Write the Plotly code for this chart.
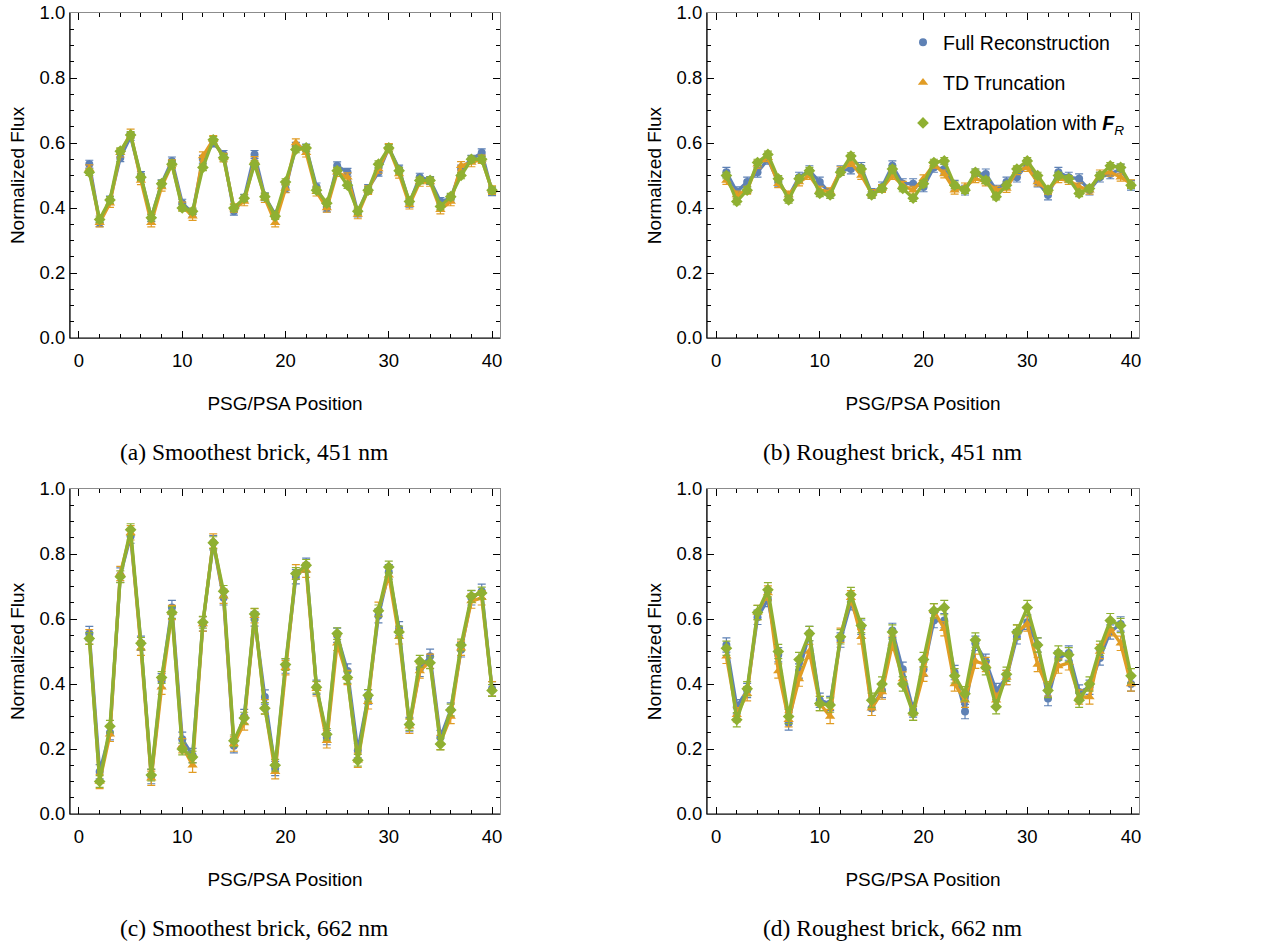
import plotly.graph_objects as go

positions = list(range(1, 41))

# Panel (a): Smoothest brick, 451 nm
a_full = [0.535, 0.355, 0.425, 0.555, 0.620, 0.500, 0.370, 0.475, 0.545, 0.415,
          0.385, 0.550, 0.600, 0.565, 0.390, 0.430, 0.565, 0.435, 0.380, 0.460,
          0.590, 0.585, 0.465, 0.400, 0.530, 0.510, 0.385, 0.460, 0.510, 0.585,
          0.520, 0.415, 0.495, 0.485, 0.420, 0.430, 0.520, 0.550, 0.570, 0.450]
a_td = [0.520, 0.355, 0.415, 0.570, 0.630, 0.485, 0.355, 0.465, 0.535, 0.405,
        0.375, 0.560, 0.610, 0.555, 0.400, 0.420, 0.545, 0.430, 0.355, 0.460,
        0.600, 0.570, 0.450, 0.400, 0.510, 0.495, 0.380, 0.455, 0.520, 0.585,
        0.505, 0.410, 0.480, 0.480, 0.395, 0.420, 0.530, 0.540, 0.550, 0.455]
a_ext = [0.510, 0.365, 0.425, 0.575, 0.625, 0.495, 0.370, 0.475, 0.535, 0.400,
         0.390, 0.525, 0.610, 0.555, 0.400, 0.430, 0.535, 0.435, 0.375, 0.480,
         0.580, 0.585, 0.455, 0.415, 0.515, 0.470, 0.390, 0.455, 0.535, 0.585,
         0.515, 0.420, 0.485, 0.485, 0.405, 0.435, 0.500, 0.550, 0.550, 0.455]

# Panel (b): Roughest brick, 451 nm
b_full = [0.510, 0.450, 0.480, 0.510, 0.550, 0.480, 0.435, 0.495, 0.515, 0.480,
          0.445, 0.515, 0.520, 0.525, 0.445, 0.465, 0.530, 0.475, 0.475, 0.465,
          0.525, 0.520, 0.470, 0.455, 0.505, 0.505, 0.455, 0.480, 0.495, 0.535,
          0.480, 0.440, 0.510, 0.495, 0.490, 0.455, 0.495, 0.505, 0.520, 0.470]
b_td = [0.485, 0.440, 0.455, 0.535, 0.555, 0.475, 0.440, 0.480, 0.500, 0.455,
        0.450, 0.515, 0.540, 0.500, 0.445, 0.460, 0.500, 0.470, 0.455, 0.490,
        0.535, 0.505, 0.455, 0.465, 0.490, 0.480, 0.455, 0.460, 0.515, 0.525,
        0.480, 0.455, 0.490, 0.485, 0.465, 0.455, 0.505, 0.510, 0.495, 0.475]
b_ext = [0.500, 0.420, 0.455, 0.540, 0.565, 0.490, 0.425, 0.490, 0.515, 0.445,
         0.440, 0.510, 0.560, 0.520, 0.440, 0.460, 0.520, 0.460, 0.430, 0.475,
         0.540, 0.545, 0.470, 0.455, 0.510, 0.485, 0.435, 0.470, 0.520, 0.545,
         0.500, 0.455, 0.500, 0.490, 0.445, 0.460, 0.500, 0.530, 0.525, 0.470]

# Panel (c): Smoothest brick, 662 nm
c_full = [0.555, 0.130, 0.250, 0.735, 0.855, 0.525, 0.115, 0.410, 0.635, 0.230,
          0.180, 0.585, 0.835, 0.665, 0.210, 0.300, 0.600, 0.360, 0.140, 0.455,
          0.730, 0.765, 0.390, 0.235, 0.550, 0.440, 0.195, 0.360, 0.610, 0.745,
          0.570, 0.275, 0.445, 0.485, 0.235, 0.320, 0.505, 0.665, 0.685, 0.385]
c_td = [0.545, 0.100, 0.245, 0.740, 0.865, 0.510, 0.110, 0.390, 0.620, 0.210,
        0.150, 0.585, 0.840, 0.670, 0.215, 0.280, 0.610, 0.330, 0.130, 0.450,
        0.745, 0.750, 0.385, 0.225, 0.525, 0.420, 0.165, 0.345, 0.630, 0.735,
        0.545, 0.270, 0.440, 0.470, 0.220, 0.300, 0.510, 0.655, 0.665, 0.385]
c_ext = [0.540, 0.100, 0.270, 0.730, 0.875, 0.525, 0.120, 0.420, 0.620, 0.200,
         0.175, 0.590, 0.835, 0.685, 0.225, 0.295, 0.615, 0.325, 0.150, 0.460,
         0.740, 0.765, 0.390, 0.245, 0.555, 0.420, 0.165, 0.365, 0.625, 0.760,
         0.560, 0.275, 0.470, 0.465, 0.215, 0.320, 0.520, 0.670, 0.680, 0.380]

# Panel (d): Roughest brick, 662 nm
d_full = [0.520, 0.330, 0.380, 0.605, 0.660, 0.490, 0.280, 0.440, 0.555, 0.350,
          0.340, 0.535, 0.650, 0.575, 0.325, 0.380, 0.565, 0.445, 0.320, 0.445,
          0.595, 0.595, 0.435, 0.315, 0.525, 0.470, 0.380, 0.420, 0.545, 0.590,
          0.520, 0.355, 0.480, 0.495, 0.375, 0.390, 0.480, 0.560, 0.585, 0.400]
d_td = [0.485, 0.305, 0.370, 0.620, 0.680, 0.440, 0.290, 0.415, 0.500, 0.340,
        0.300, 0.550, 0.665, 0.545, 0.325, 0.375, 0.525, 0.415, 0.310, 0.430,
        0.625, 0.570, 0.400, 0.350, 0.470, 0.460, 0.350, 0.420, 0.560, 0.585,
        0.460, 0.385, 0.455, 0.465, 0.360, 0.360, 0.500, 0.570, 0.525, 0.400]
d_ext = [0.510, 0.290, 0.385, 0.620, 0.690, 0.500, 0.300, 0.475, 0.555, 0.340,
         0.335, 0.545, 0.675, 0.580, 0.350, 0.400, 0.560, 0.400, 0.310, 0.475,
         0.625, 0.635, 0.425, 0.370, 0.535, 0.450, 0.330, 0.430, 0.560, 0.635,
         0.520, 0.380, 0.495, 0.490, 0.350, 0.400, 0.510, 0.595, 0.580, 0.425]

# Error bar half-widths (full, TD, extrapolation) per panel
a_err = [0.012, 0.013, 0.010]
b_err = [0.015, 0.012, 0.010]
c_err = [0.022, 0.022, 0.018]
d_err = [0.022, 0.022, 0.022]

series_names = ["Full Reconstruction", "TD Truncation",
                "Extrapolation with <b><i>F</i></b><sub><i>R</i></sub>"]
captions = ["(a) Smoothest brick, 451 nm", "(b) Roughest brick, 451 nm",
            "(c) Smoothest brick, 662 nm", "(d) Roughest brick, 662 nm"]

colors = ["#5E81B5", "#E19C24", "#8FB032"]
symbols = ["circle", "triangle-up", "diamond"]
msizes = [8, 9, 9]

panels = [
    (a_full, a_td, a_ext, a_err),
    (b_full, b_td, b_ext, b_err),
    (c_full, c_td, c_ext, c_err),
    (d_full, d_td, d_ext, d_err),
]

W, H = 1265, 945


def px(v):
    return v / W


def py(v):
    return 1 - v / H


# panel frames in window pixels: (left, right, top, bottom)
frames = [(70, 500, 13, 338), (707, 1139, 13, 338),
          (70, 500, 489, 814), (707, 1139, 489, 814)]

fig = go.Figure()
shapes = []
annotations = []
layout_axes = {}

tick_font = dict(family="Liberation Sans, Arial, sans-serif", size=18.5, color="black")
title_font = dict(family="Liberation Sans, Arial, sans-serif", size=19, color="black")

for i, (full, td, ext, err) in enumerate(panels):
    n = i + 1
    xa = "x" if n == 1 else f"x{n}"
    ya = "y" if n == 1 else f"y{n}"
    l, r, t, b = frames[i]
    xdom = [px(l), px(r)]
    ydom = [py(b), py(t)]
    for k, vals in enumerate([full, td, ext]):
        fig.add_trace(go.Scatter(
            x=positions, y=vals, xaxis=xa, yaxis=ya,
            mode="lines+markers",
            line=dict(color=colors[k], width=3.3),
            marker=dict(symbol=symbols[k], size=msizes[k], color=colors[k]),
            error_y=dict(type="constant", value=err[k], color=colors[k],
                         thickness=1.2, width=4),
            showlegend=False, name=series_names[k],
        ))
    xkey = "xaxis" if n == 1 else f"xaxis{n}"
    ykey = "yaxis" if n == 1 else f"yaxis{n}"
    layout_axes[xkey] = dict(
        domain=xdom, anchor=ya, range=[-0.87, 40.77], automargin=False,
        tickmode="linear", tick0=0, dtick=10,
        ticks="inside", ticklen=7, tickwidth=1, tickcolor="black",
        minor=dict(dtick=2, tick0=0, ticks="inside", ticklen=4, tickcolor="black"),
        showline=True, linecolor="#8c8c8c", linewidth=1, mirror="ticks",
        showgrid=False, zeroline=False,
        tickfont=tick_font, ticklabelstandoff=6, ticklabeloverflow="allow",
        title=dict(text="PSG/PSA Position", font=title_font, standoff=26),
    )
    layout_axes[ykey] = dict(
        domain=ydom, anchor=xa, range=[0, 1], automargin=False,
        tickmode="linear", tick0=0, dtick=0.2, tickformat=".1f",
        ticks="inside", ticklen=7, tickwidth=1, tickcolor="black",
        minor=dict(dtick=0.05, tick0=0, ticks="inside", ticklen=4, tickcolor="black"),
        showline=True, linecolor="#8c8c8c", linewidth=1, mirror="ticks",
        showgrid=False, zeroline=False,
        tickfont=tick_font, ticklabeloverflow="allow",
        title=dict(text="Normalized Flux", font=title_font, standoff=9),
    )
    # black left and bottom frame lines
    shapes.append(dict(type="line", xref=f"{xa} domain", yref=f"{ya} domain",
                       x0=0, x1=1, y0=0, y1=0, line=dict(color="black", width=1.2)))
    shapes.append(dict(type="line", xref=f"{xa} domain", yref=f"{ya} domain",
                       x0=0, x1=0, y0=0, y1=1, line=dict(color="black", width=1.2)))
    cap_y = 452 if i < 2 else 928
    cap_x = 254 if i % 2 == 0 else 892
    annotations.append(dict(
        text=captions[i], x=px(cap_x), y=py(cap_y), xref="paper", yref="paper",
        xanchor="center", yanchor="middle", showarrow=False,
        font=dict(family="Liberation Serif, Times New Roman, serif", size=23.5, color="black"),
    ))

# legend-only entries (markers only), shown in panel (b)
for k in range(3):
    fig.add_trace(go.Scatter(
        x=[None], y=[None], xaxis="x2", yaxis="y2", mode="markers",
        marker=dict(symbol=symbols[k], size=msizes[k], color=colors[k]),
        name=series_names[k], showlegend=True, legendgroup=f"g{k}",
    ))

fig.update_layout(
    width=W, height=H,
    margin=dict(l=0, r=0, t=0, b=0),
    paper_bgcolor="white", plot_bgcolor="white",
    shapes=shapes, annotations=annotations,
    legend=dict(x=px(903), y=py(23), xanchor="left", yanchor="top",
                bgcolor="rgba(0,0,0,0)", tracegroupgap=12,
                font=dict(family="Liberation Sans, Arial, sans-serif", size=19.5, color="black")),
    **layout_axes,
)

fig.write_html("out.html",
               config={"displayModeBar": False},
               post_script="document.body.style.margin='0px';document.body.style.overflow='hidden';")
